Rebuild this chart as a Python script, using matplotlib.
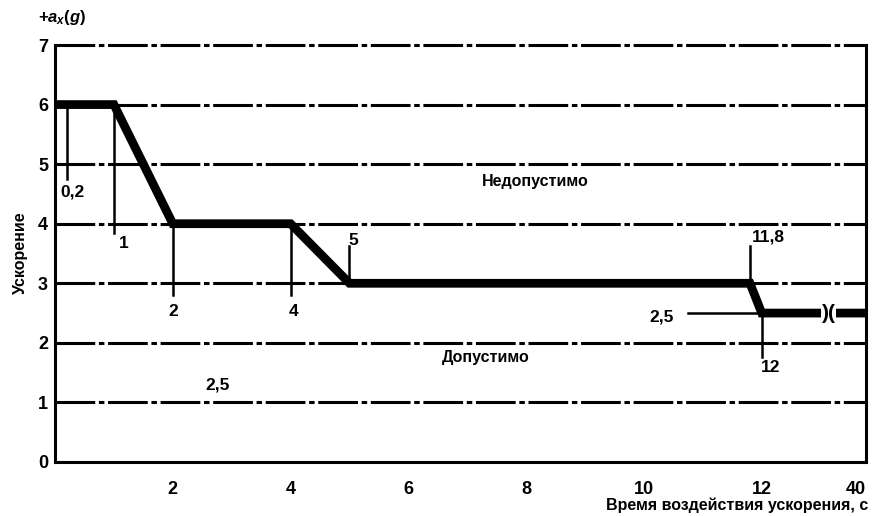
import numpy as np
import matplotlib
matplotlib.use("Agg")
import matplotlib.pyplot as plt

# boundary curve: acceleration limit vs exposure time
time_s = [0, 1, 2, 4, 5, 11.8, 12, 40]
accel_g = [6, 6, 4, 4, 3, 3, 2.5, 2.5]

x_ticks = [2, 4, 6, 8, 10, 12, 40]
y_ticks = [0, 1, 2, 3, 4, 5, 6, 7]
grid_levels = [1, 2, 3, 4, 5, 6, 7]

# dimension marks (x, y_from, y_to)
marks = [
    (0.2, 4.75, 6),
    (1, 3.85, 6),
    (2, 2.8, 4),
    (4, 2.8, 4),
    (5, 3, 3.62),
    (11.8, 3, 3.62),
    (12, 1.77, 2.5),
]
# labels for the marks
mark_labels = ["0,2", "1", "2", "4", "5", "11,8", "12", "2,5", "2,5"]
mark_label_xy = [(0.3, 4.53), (1.16, 3.67), (2.0, 2.52), (4.05, 2.52),
                 (5.07, 3.72), (13.7, 3.78), (14.5, 1.58), (10.3, 2.43),
                 (2.76, 1.29)]
level_25_span = (10.75, 12)
break_x = 30

zone_labels = ["Недопустимо", "Допустимо"]
zone_xy = [(8.16, 4.71), (7.31, 1.76)]

K = 1.77 / 28  # compressed section after 12 s


def forward(x):
    x = np.asarray(x, dtype=float)
    return np.where(x <= 12, x, 12 + (x - 12) * K)


def inverse(x):
    x = np.asarray(x, dtype=float)
    return np.where(x <= 12, x, 12 + (x - 12) / K)


plt.rcParams["font.family"] = ["Liberation Sans", "DejaVu Sans"]
plt.rcParams["font.weight"] = "bold"
plt.rcParams["mathtext.fontset"] = "custom"
plt.rcParams["mathtext.it"] = "Liberation Sans:italic:bold"
plt.rcParams["mathtext.rm"] = "Liberation Sans:bold"

fig = plt.figure(figsize=(8.74, 5.16), dpi=100)
ax = fig.add_axes([55 / 874, 1 - 462 / 516, 811 / 874, 417 / 516])
ax.set_xscale("function", functions=(forward, inverse))
ax.set_xlim(0, 40)
ax.set_ylim(0, 7)

for level in grid_levels:
    ax.axhline(level, color="black", lw=2.2, dashes=(13, 1.2, 1.8, 1.2),
               clip_on=False, zorder=1)

ax.plot(time_s, accel_g, color="black", lw=6.3, solid_capstyle="butt",
        solid_joinstyle="miter", zorder=3)

for x, y0, y1 in marks:
    ax.plot([x, x], [y0, y1], color="black", lw=1.8, zorder=2)
ax.plot(level_25_span, [2.5, 2.5], color="black", lw=1.8, zorder=2)

for text, (x, y) in zip(mark_labels, mark_label_xy):
    ax.text(x, y, text, ha="center", va="center", fontsize=12.5,
            fontweight="bold")

for text, (x, y) in zip(zone_labels, zone_xy):
    ax.text(x, y, text, ha="center", va="center", fontsize=11.5,
            fontweight="bold")

ax.text(break_x, 2.5, ")(", ha="center", va="center", fontsize=15,
        fontweight="bold", zorder=4,
        bbox=dict(facecolor="white", edgecolor="none", pad=0.3))

for side in ["left", "bottom", "right"]:
    ax.spines[side].set_linewidth(2.2)
ax.spines["top"].set_visible(False)

ax.set_xticks(x_ticks)
ax.set_xticklabels([str(t) for t in x_ticks])
ax.set_yticks(y_ticks)
ax.set_yticklabels([str(t) for t in y_ticks])
ax.tick_params(axis="both", length=0, labelsize=13)
ax.tick_params(axis="x", pad=14)
ax.tick_params(axis="y", pad=5)
for lab in ax.get_xticklabels() + ax.get_yticklabels():
    lab.set_fontweight("bold")
ax.get_xticklabels()[-1].set_horizontalalignment("right")

fig.text(20 / 874, 1 - 253 / 516, "Ускорение", rotation=90, ha="center",
         va="center", fontsize=11.5, fontweight="bold")
fig.text(38 / 874, 1 - 17 / 516, r"+$a_x$($g$)", ha="left", va="center",
         fontsize=12, fontweight="bold")
fig.text(868 / 874, 1 - 505 / 516, "Время воздействия ускорения, с",
         ha="right", va="center", fontsize=11.5, fontweight="bold")

fig.savefig("out.png", dpi=100, facecolor="white")
